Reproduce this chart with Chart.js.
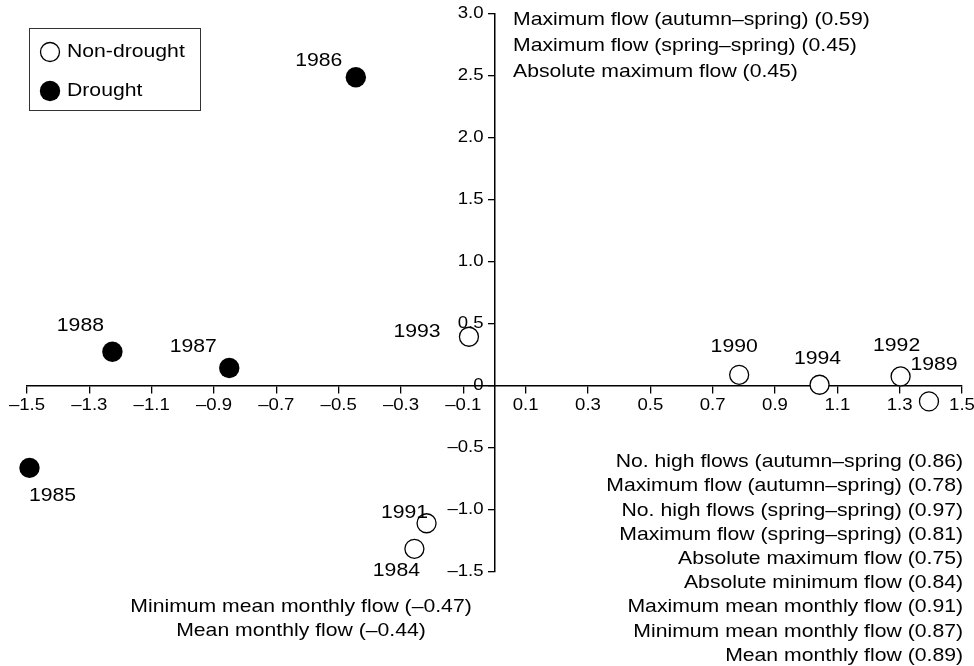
<!DOCTYPE html>
<html>
<head>
<meta charset="utf-8">
<script src="https://cdn.jsdelivr.net/npm/chart.js@4.4.1/dist/chart.umd.min.js"></script>
<style>
  html, body { margin: 0; padding: 0; background: #fff; }
  #wrap { position: relative; width: 974px; height: 666px; }
</style>
</head>
<body>
<div id="wrap"><canvas id="chart"></canvas></div>
<script>
// axis ticks
const X_TICKS = [-1.5, -1.3, -1.1, -0.9, -0.7, -0.5, -0.3, -0.1, 0.1, 0.3, 0.5, 0.7, 0.9, 1.1, 1.3, 1.5];
const Y_TICKS = [-1.5, -1.0, -0.5, 0, 0.5, 1.0, 1.5, 2.0, 2.5, 3.0];

// drought years (filled)
const DROUGHT_YEARS = ['1986', '1988', '1987', '1985'];
const DROUGHT_X = [-0.445, -1.226, -0.851, -1.492];
const DROUGHT_Y = [2.49, 0.276, 0.145, -0.66];

// non-drought years (open)
const WET_YEARS = ['1993', '1990', '1994', '1992', '1989', '1991', '1984'];
const WET_X = [-0.082, 0.785, 1.043, 1.303, 1.394, -0.218, -0.257];
const WET_Y = [0.397, 0.09, 0.01, 0.077, -0.124, -1.107, -1.313];

// variable loadings
const TOP_NOTES = [
  'Maximum flow (autumn\u2013spring) (0.59)',
  'Maximum flow (spring\u2013spring) (0.45)',
  'Absolute maximum flow (0.45)',
];
const RIGHT_NOTES = [
  'No. high flows (autumn\u2013spring (0.86)',
  'Maximum flow (autumn\u2013spring) (0.78)',
  'No. high flows (spring\u2013spring) (0.97)',
  'Maximum flow (spring\u2013spring) (0.81)',
  'Absolute maximum flow (0.75)',
  'Absolute minimum flow (0.84)',
  'Maximum mean monthly flow (0.91)',
  'Minimum mean monthly flow (0.87)',
  'Mean monthly flow (0.89)',
];
const LEFT_NOTES = [
  'Minimum mean monthly flow (\u20130.47)',
  'Mean monthly flow (\u20130.44)',
];

// label offsets from the marker centre (px)
const LABEL_OFFSETS = {
  '1986': [-37, -16], '1988': [-32, -26], '1987': [-36, -21], '1985': [23, 28],
  '1993': [-52, -5], '1990': [-5, -28], '1994': [-2, -26], '1992': [-4, -31],
  '1989': [5, -37], '1991': [-22, -11], '1984': [-18, 22],
};

const FONT = "'Liberation Sans', Arial, Helvetica, sans-serif";
// the original lettering is a little wide, so text gets a horizontal stretch
const TEXT_PX = 19, TEXT_SX = 1.115;
const TICK_PX = 16, TICK_SX = 1.16;

const fmt = v => {
  if (Math.abs(v) < 1e-9) return '0';
  return (v < 0 ? '\u2013' : '') + Math.abs(v).toFixed(1);
};

const toPoints = (xs, ys) => xs.map((x, i) => ({ x, y: ys[i] }));

function wideText(ctx, text, x, y, align, sx) {
  ctx.save();
  ctx.translate(x, y);
  ctx.scale(sx, 1);
  ctx.textAlign = align;
  ctx.fillText(text, 0, 0);
  ctx.restore();
}

// tick labels, year labels, note blocks and boxed legend
const annotatePlugin = {
  id: 'annotate',
  afterDraw(chart) {
    const ctx = chart.ctx;
    const xs = chart.scales.x, ys = chart.scales.y;
    const x0 = xs.getPixelForValue(0), y0 = ys.getPixelForValue(0);
    ctx.save();
    ctx.fillStyle = '#000';
    ctx.textBaseline = 'middle';

    // tick labels
    ctx.font = `${TICK_PX}px ${FONT}`;
    X_TICKS.forEach(v => wideText(ctx, fmt(v), xs.getPixelForValue(v), y0 + 20, 'center', TICK_SX));
    Y_TICKS.forEach(v => wideText(ctx, fmt(v), x0 - 11, ys.getPixelForValue(v), 'right', TICK_SX));

    // year labels
    ctx.font = `${TEXT_PX}px ${FONT}`;
    [DROUGHT_YEARS, WET_YEARS].forEach((years, di) => {
      const meta = chart.getDatasetMeta(di);
      years.forEach((yr, i) => {
        const el = meta.data[i];
        const [dx, dy] = LABEL_OFFSETS[yr];
        wideText(ctx, yr, el.x + dx, el.y + dy, 'center', TEXT_SX);
      });
    });

    // loading notes
    TOP_NOTES.forEach((t, i) => wideText(ctx, t, 513, 20 + i * 26, 'left', TEXT_SX));
    RIGHT_NOTES.forEach((t, i) => wideText(ctx, t, 963, 462 + i * 24.2, 'right', TEXT_SX));
    LEFT_NOTES.forEach((t, i) => wideText(ctx, t, 301, 607 + i * 24.2, 'center', TEXT_SX));

    // legend
    ctx.strokeStyle = '#333';
    ctx.lineWidth = 1;
    ctx.strokeRect(29.5, 28.5, 171, 82);
    ctx.beginPath();
    ctx.arc(50, 52, 9.5, 0, Math.PI * 2);
    ctx.fillStyle = '#fff';
    ctx.fill();
    ctx.lineWidth = 1.3;
    ctx.strokeStyle = '#000';
    ctx.stroke();
    ctx.beginPath();
    ctx.arc(50, 91, 10.2, 0, Math.PI * 2);
    ctx.fillStyle = '#000';
    ctx.fill();
    wideText(ctx, 'Non-drought', 67, 52, 'left', TEXT_SX);
    wideText(ctx, 'Drought', 67, 91, 'left', TEXT_SX);
    ctx.restore();
  },
};

new Chart(document.getElementById('chart'), {
  type: 'scatter',
  data: {
    datasets: [
      {
        label: 'Drought',
        data: toPoints(DROUGHT_X, DROUGHT_Y),
        clip: false,
        pointRadius: 10.2,
        pointHoverRadius: 10.2,
        backgroundColor: '#000',
        borderColor: '#000',
        borderWidth: 0,
      },
      {
        label: 'Non-drought',
        data: toPoints(WET_X, WET_Y),
        clip: false,
        pointRadius: 9.5,
        pointHoverRadius: 9.5,
        backgroundColor: '#fff',
        borderColor: '#000',
        borderWidth: 1.3,
      },
    ],
  },
  options: {
    responsive: true,
    maintainAspectRatio: false,
    animation: false,
    layout: { padding: { left: 27, right: 12, top: 14, bottom: 94 } },
    plugins: {
      legend: { display: false },
      tooltip: { enabled: false },
    },
    scales: {
      x: {
        type: 'linear',
        min: -1.5,
        max: 1.5,
        position: { y: 0 },
        afterBuildTicks: s => { s.ticks = X_TICKS.map(v => ({ value: v })); },
        afterFit: s => { s.height = 0; },
        grid: { drawOnChartArea: false, drawTicks: true, tickLength: 7, color: '#000', lineWidth: 1.3 },
        border: { display: true, color: '#000', width: 1.5 },
        ticks: { display: false, autoSkip: false },
      },
      y: {
        type: 'linear',
        min: -1.5,
        max: 3.0,
        position: { x: 0 },
        afterBuildTicks: s => { s.ticks = Y_TICKS.map(v => ({ value: v })); },
        afterFit: s => { s.width = 0; },
        grid: { drawOnChartArea: false, drawTicks: true, tickLength: 6, color: '#000', lineWidth: 1.3 },
        border: { display: true, color: '#000', width: 1.5 },
        ticks: { display: false, autoSkip: false },
      },
    },
  },
  plugins: [annotatePlugin],
});
</script>
</body>
</html>
